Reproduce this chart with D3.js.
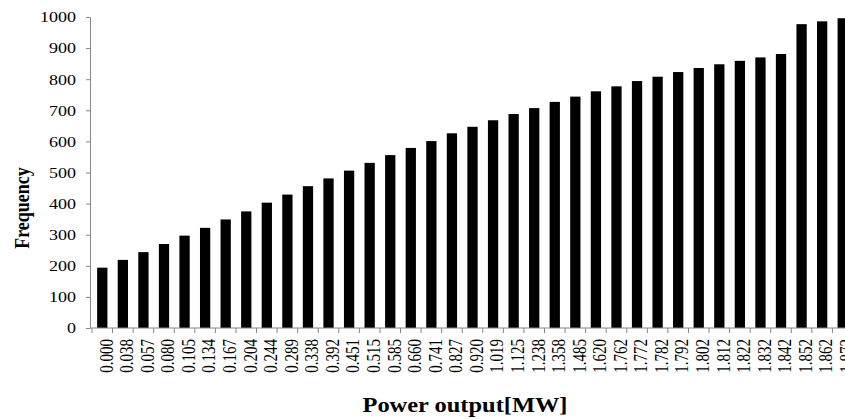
<!DOCTYPE html>
<meta charset="utf-8">
<style>
body { margin: 0; background: #fff; }
text { font-family: "Liberation Serif", "Times New Roman", serif; fill: #000; }
.bar { fill: #000; }
.axis path, .axis line { stroke: #868686; }
</style>
<body>
<script src="https://cdn.jsdelivr.net/npm/d3@7"></script>
<script>
// categories (power output, MW)
var power = ["0.000","0.038","0.057","0.080","0.105","0.134","0.167","0.204","0.244","0.289",
             "0.338","0.392","0.451","0.515","0.585","0.660","0.741","0.827","0.920","1.019",
             "1.125","1.238","1.358","1.485","1.620","1.762","1.772","1.782","1.792","1.802",
             "1.812","1.822","1.832","1.842","1.852","1.862","1.872"];
// frequency
var frequency = [194, 219, 244, 270, 297, 322, 349, 375, 403, 429,
                 456, 481, 506, 531, 556, 579, 601, 626, 647, 668,
                 688, 707, 727, 744, 761, 777, 794, 808, 823, 836,
                 848, 859, 870, 881, 977, 986, 996];
var yTicks = [0, 100, 200, 300, 400, 500, 600, 700, 800, 900, 1000];

var W = 845, H = 419;
// plot runs past the right edge, as in the original
var plotLeft = 92, plotTop = 17, plotBottom = 328, plotRight = 853;
var sx = 1.2; // the original is stretched horizontally

var svg = d3.select("body").append("svg")
    .attr("width", W)
    .attr("height", H);

var x = d3.scaleBand()
    .domain(power)
    .range([plotLeft, plotRight])
    .paddingInner(0.5)
    .paddingOuter(0.25);

var y = d3.scaleLinear()
    .domain([0, 1000])
    .range([plotBottom, plotTop]);

// bars
svg.selectAll(".bar")
    .data(power)
  .enter().append("rect")
    .attr("class", "bar")
    .attr("x", function(d) { return x(d); })
    .attr("width", x.bandwidth())
    .attr("y", function(d, i) { return y(frequency[i]); })
    .attr("height", function(d, i) { return plotBottom - y(frequency[i]); });

// y axis
var gy = svg.append("g")
    .attr("class", "axis")
    .attr("transform", "translate(" + (plotLeft - 2) + ",0)")
    .call(d3.axisLeft(y).tickValues(yTicks).tickFormat(d3.format("d"))
      .tickSize(4).tickSizeOuter(0).tickPadding(0));
gy.selectAll("text")
    .style("font-size", "15px")
    .attr("text-anchor", "end")
    .attr("x", 0)
    .attr("transform", "translate(-14,0) scale(" + sx + ",1)");

// x axis: line, boundary ticks, rotated labels
var gx = svg.append("g").attr("class", "axis");
gx.append("line")
    .attr("x1", plotLeft - 2).attr("x2", plotRight)
    .attr("y1", plotBottom).attr("y2", plotBottom);
var step = x.step();
var bounds = power.map(function(d) { return x(d) - step * 0.25; });
bounds.push(plotRight);
gx.selectAll(".xt")
    .data(bounds)
  .enter().append("line")
    .attr("class", "xt")
    .attr("x1", function(d) { return d; }).attr("x2", function(d) { return d; })
    .attr("y1", plotBottom).attr("y2", plotBottom + 5);

svg.selectAll(".xl")
    .data(power)
  .enter().append("text")
    .attr("class", "xl")
    .attr("transform", function(d) {
      return "translate(" + (x(d) + x.bandwidth() / 2 + 4) + "," + (plotBottom + 11) + ") rotate(-90) scale(1," + sx + ")";
    })
    .attr("dy", "0.35em")
    .attr("text-anchor", "end")
    .style("font-size", "15px")
    .text(function(d) { return d; });

// axis titles
svg.append("text")
    .attr("x", 465)
    .attr("y", 412)
    .attr("text-anchor", "middle")
    .style("font-size", "20px")
    .style("font-weight", "bold")
    .attr("textLength", 205)
    .attr("lengthAdjust", "spacingAndGlyphs")
    .text("Power output[MW]");

svg.append("text")
    .attr("transform", "translate(29,208) rotate(-90) scale(1," + sx + ")")
    .attr("text-anchor", "middle")
    .style("font-size", "18px")
    .style("font-weight", "bold")
    .text("Frequency");
</script>
</body>
